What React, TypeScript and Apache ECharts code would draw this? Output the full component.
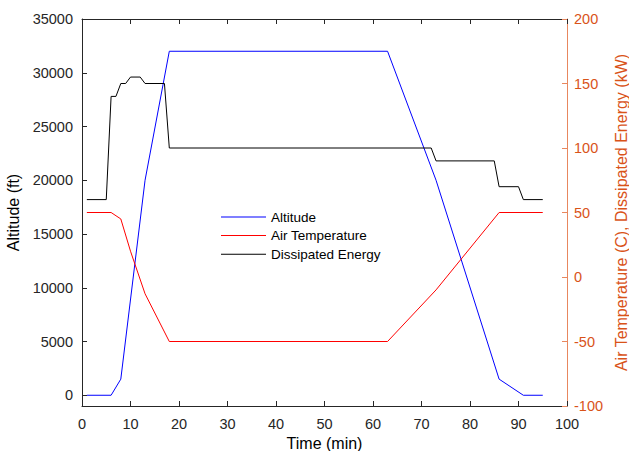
import React, { useEffect, useRef } from "react";
import * as echarts from "echarts";

const altTime = [1, 6, 8, 13, 18, 63, 73, 86, 91, 95];
const altValues = [0, 0, 1500, 20000, 32000, 32000, 20000, 1500, 0, 0];

const tempTime = [1, 6, 8, 10, 13, 18, 63, 73, 86, 95];
const tempValues = [50, 50, 45, 20, -13, -50, -50, -10, 50, 50];

const energyTime = [1, 5, 6, 7, 8, 9, 10, 12, 13, 17, 18, 72, 73, 85, 86, 90, 91, 95];
const energyValues = [60, 60, 140, 140, 150, 150, 155, 155, 150, 150, 100, 100, 90, 90, 70, 70, 60, 60];

const altTicks = [0, 5000, 10000, 15000, 20000, 25000, 30000, 35000];

const FONT = "'Liberation Sans', Arial, Helvetica, sans-serif";
const AX = "#262626";
const OR = "#D95319";
const LEG_ICON = "path://M0,0H45V1H0Z";

export default function App() {
  const ref = useRef<HTMLDivElement>(null);
  useEffect(() => {
    const chart = echarts.init(ref.current!, null, { renderer: "svg" });
    const zip = (t: number[], v: number[]) => t.map((x, i) => [x, v[i]]);
    const plain = (v: number) => String(v);
    chart.setOption({
      animation: false,
      textStyle: { fontFamily: FONT },
      grid: { left: 82, right: 62, top: 19, bottom: 45, containLabel: false, outerBoundsMode: "none" },
      legend: {
        orient: "vertical",
        left: 221,
        top: 210,
        padding: 0,
        itemWidth: 45,
        itemHeight: 14,
        itemGap: 4.6,
        textStyle: { fontFamily: FONT, fontSize: 13.5, color: "#000" },
        data: [
          { name: "Altitude", icon: LEG_ICON },
          { name: "Air Temperature", icon: LEG_ICON },
          { name: "Dissipated Energy", icon: LEG_ICON },
        ],
      },
      xAxis: [
        {
          type: "value",
          min: 0,
          max: 100,
          interval: 10,
          position: "bottom",
          name: "Time (min)",
          nameLocation: "middle",
          nameGap: 28,
          nameTextStyle: { fontSize: 16, color: "#000", fontFamily: FONT },
          axisLine: { show: true, onZero: false, lineStyle: { color: AX, width: 1 } },
          axisTick: { show: true, inside: true, length: 5, lineStyle: { color: AX } },
          axisLabel: { fontSize: 14.5, color: AX, margin: 10, fontFamily: FONT, formatter: plain },
          splitLine: { show: false },
        },
        {
          type: "value",
          min: 0,
          max: 100,
          interval: 10,
          position: "top",
          axisLine: { show: true, onZero: false, lineStyle: { color: AX, width: 1 } },
          axisTick: { show: true, inside: true, length: 5, lineStyle: { color: AX } },
          axisLabel: { show: false },
          splitLine: { show: false },
        },
      ],
      yAxis: [
        {
          type: "value",
          min: -1000,
          max: 35000,
          position: "left",
          name: "Altitude (ft)",
          nameLocation: "middle",
          nameGap: 52,
          nameTextStyle: { fontSize: 16, color: "#000", fontFamily: FONT },
          axisLine: { show: true, onZero: false, lineStyle: { color: AX, width: 1 } },
          axisTick: { show: true, inside: true, length: 5, lineStyle: { color: AX }, customValues: altTicks },
          axisLabel: { fontSize: 14.5, color: AX, margin: 9, fontFamily: FONT, customValues: altTicks, formatter: plain },
          splitLine: { show: false },
        },
        {
          type: "value",
          min: -100,
          max: 200,
          interval: 50,
          position: "right",
          name: "Air Temperature (C), Dissipated Energy (kW)",
          nameLocation: "middle",
          nameGap: 46,
          nameTextStyle: { fontSize: 16, color: OR, fontFamily: FONT },
          axisLine: { show: true, onZero: false, lineStyle: { color: "#E8875E", width: 1 } },
          axisTick: { show: true, inside: true, length: 5, lineStyle: { color: "#E8875E" } },
          axisLabel: { fontSize: 14.5, color: OR, margin: 7, fontFamily: FONT, formatter: plain },
          splitLine: { show: false },
        },
      ],
      series: [
        {
          name: "Altitude",
          type: "line",
          yAxisIndex: 0,
          symbol: "none",
          lineStyle: { color: "#0000FF", width: 1 },
          itemStyle: { color: "#0000FF" },
          data: zip(altTime, altValues),
        },
        {
          name: "Air Temperature",
          type: "line",
          yAxisIndex: 1,
          symbol: "none",
          lineStyle: { color: "#FF0000", width: 1 },
          itemStyle: { color: "#FF0000" },
          data: zip(tempTime, tempValues),
        },
        {
          name: "Dissipated Energy",
          type: "line",
          yAxisIndex: 1,
          symbol: "none",
          lineStyle: { color: "#000000", width: 1 },
          itemStyle: { color: "#000000" },
          data: zip(energyTime, energyValues),
        },
      ],
    });
    return () => chart.dispose();
  }, []);
  return (
    <div
      ref={ref}
      style={{ position: "fixed", left: 0, top: 0, width: 629, height: 451, background: "#fff" }}
    />
  );
}
